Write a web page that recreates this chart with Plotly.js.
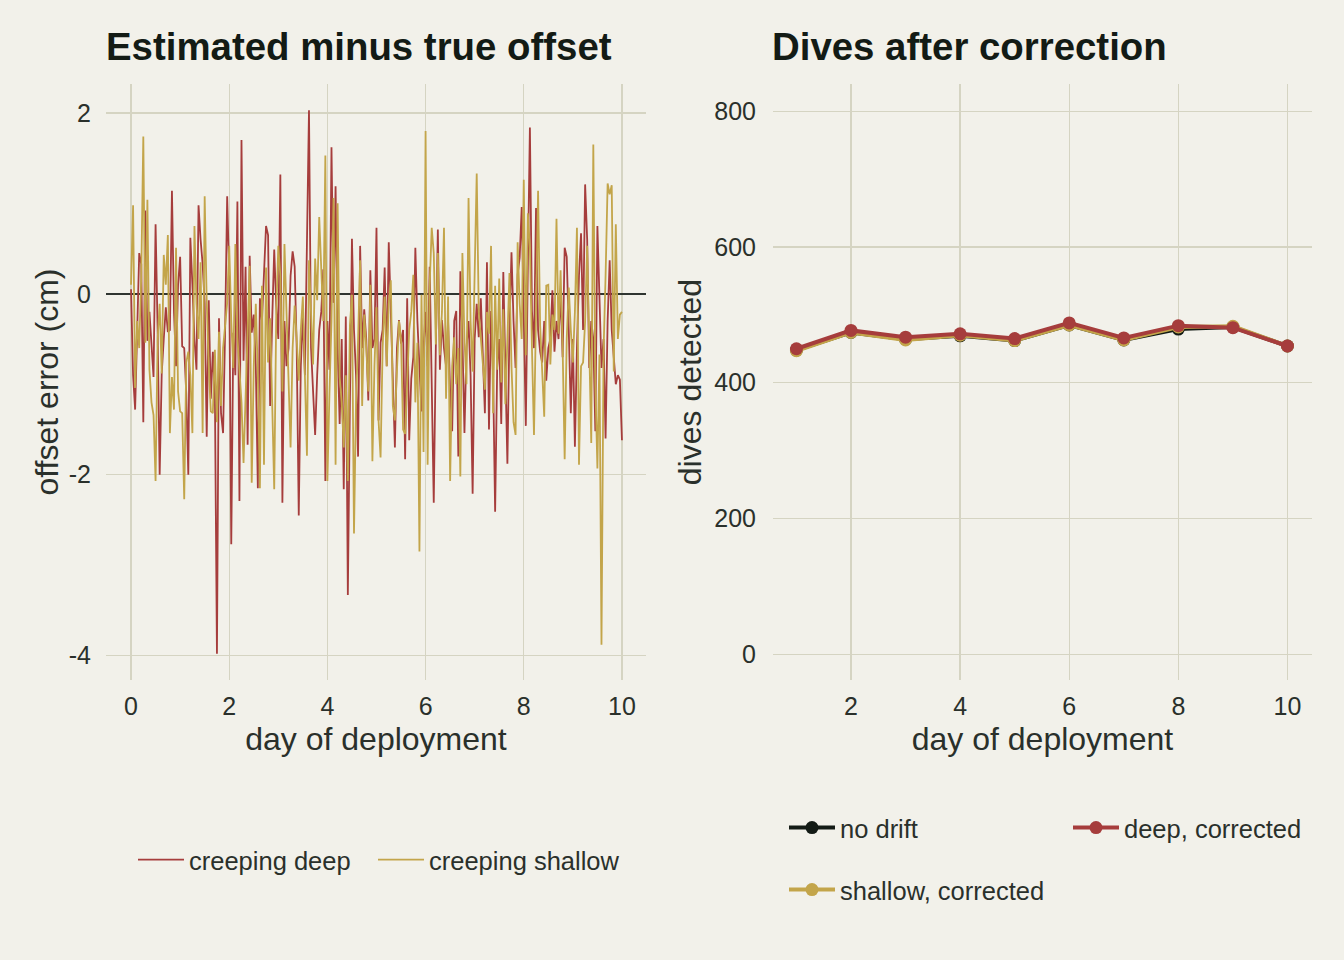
<!DOCTYPE html>
<html>
<head>
<meta charset="utf-8">
<script src="https://cdn.plot.ly/plotly-3.0.1.min.js"></script>
<style>
  html, body { margin: 0; padding: 0; background: #F2F1EA; overflow: hidden; }
  #chart { width: 1344px; height: 960px; }
</style>
</head>
<body>
<div id="chart"></div>
<script>
// ---- Left panel: estimated minus true offset (cm), hourly over 10 days ----
const creepingDeep = [
  0.05, -0.9, -1.28, -0.3, 0.45, 0.33, -1.42, 0.92, -0.52, -0.2,
  -0.6, -0.92, 0.77, -0.4, -2.0, -0.88, -0.5, -0.15, -0.42, -0.4,
  1.14, -0.2, -0.8, 0.1, 0.41, -0.58, -0.6, -1.1, -2.0, 0.62,
  0.1, -0.5, -0.84, 0.98, 0.6, 0.33, -0.1, -1.58, -0.07, -1.16,
  -0.64, -1.1, -3.98, -0.27, -1.32, -1.54, -0.4, 1.08, 0.2, -2.77,
  -0.43, -0.9, 1.02, -2.29, 1.7, -0.74, 0.3, -1.67, 0.42, -0.43,
  -0.23, -0.8, -2.15, -0.05, -0.3, 0.2, 0.75, 0.65, -1.24, -0.3,
  0.49, -0.13, -0.5, 1.32, -2.31, -0.3, -0.8, -0.6, 0.2, 0.47,
  0.3, -0.6, -2.45, -0.8, -0.23, -0.9, 0.4, 2.03, -0.6, -1.1,
  -1.56, -0.9, -0.4, -0.2, 0.27, -2.07, -0.3, -0.84, 1.62, -0.1,
  1.19, -0.6, -1.44, -0.5, -2.16, -0.25, -3.33, -1.2, 0.61, -0.4,
  -0.9, -1.8, 0.53, -0.6, -0.17, -0.5, -1.18, 0.26, -0.6, -0.5,
  0.73, -1.4, -0.54, -0.4, 0.29, -0.8, 0.57, -0.2, -0.9, -1.7,
  -0.6, -0.29, -0.55, -0.4, -1.83, -0.05, -1.62, -0.94, -0.7, 0.51,
  -0.3, -0.9, -1.3, -0.6, -0.2, -0.8, 0.3, -1.0, -2.31, -0.6,
  0.71, -0.84, -0.29, -0.6, -0.8, -0.3, -1.08, -1.52, -0.3, -0.19,
  -1.8, 0.25, -0.5, -1.54, -0.6, -0.3, -0.9, -2.21, -0.5, -0.11,
  -0.48, -0.05, -0.7, -1.32, 0.35, -1.5, -0.19, -0.9, -2.41, -0.82,
  -0.5, -1.44, 0.24, -0.7, -1.88, -0.4, 0.46, -0.3, -0.82, 0.21,
  0.4, 0.96, -0.2, -1.46, 0.3, 1.84, -0.19, -0.6, 0.95, -0.4,
  -0.64, -0.76, -0.3, -0.96, -0.6, -0.5, 0.04, -0.64, -0.3, -0.5,
  0.01, -0.7, 0.51, 0.41, -0.4, -1.32, -0.5, -1.69, -0.6, 0.2,
  0.67, -0.4, 1.21, 0.6, -0.82, -0.3, -0.5, -1.52, 0.75, -0.2,
  -0.82, -0.5, -1.6, -0.3, 0.37, -0.4, -0.74, -1.0, -0.9, -0.95,
  -1.62
];
const creepingShallow = [
  0.1, 0.98, -1.04, -0.3, -0.6, 0.2, 1.74, -0.54, 1.04, -0.84,
  -1.2, -1.34, -2.07, -0.5, -0.11, -0.88, 0.43, 0.1, 0.65, -1.54,
  -0.92, -1.28, 0.51, -1.08, -1.3, -1.32, -2.27, -0.76, -0.64, -0.9,
  -1.54, 0.75, -0.11, -0.5, 0.35, -1.54, 1.08, -0.09, -0.8, -1.3,
  -1.32, -0.62, -1.42, -0.42, -1.24, -0.6, -0.35, -0.1, 0.53, -0.3,
  -0.82, 0.55, -0.48, -0.8, -1.2, -1.87, -1.16, -0.4, 0.31, -2.09,
  -0.8, -0.11, -0.9, -2.15, 0.09, -1.89, 0.29, -0.76, -0.27, -1.2,
  -2.16, -0.21, 0.53, 0.2, -1.08, 0.55, -0.29, -0.9, -1.7, -0.6,
  -0.13, -0.5, -0.96, -0.4, -0.03, -0.9, -1.79, 0.37, -0.3, -0.78,
  0.39, -0.07, 0.85, 0.17, -0.3, 1.53, -2.07, -1.1, -0.3, 1.06,
  -1.89, 1.0, -0.92, -1.2, -1.7, -0.9, -2.07, -0.35, -0.01, -2.65,
  -1.2, -0.5, 0.37, -1.24, -0.23, -0.6, -1.08, 0.1, -1.85, -0.8,
  -0.15, -1.4, -1.81, -0.6, -0.03, -0.8, -0.11, 0.15, -1.24, -1.4,
  -0.8, -0.3, -0.5, -1.5, -1.55, -0.9, -0.4, -0.2, 0.21, -1.2,
  -0.54, -2.85, -0.01, -1.75, 1.8, -1.89, 0.1, 0.73, 0.45, -0.56,
  0.45, -0.68, -0.2, 0.73, -1.16, -0.03, -2.07, -0.8, -0.48, -1.0,
  -0.6, -2.02, 0.45, -0.5, -1.0, 1.06, -0.3, -0.86, 0.2, 1.33,
  -0.2, -0.48, -0.7, -1.06, -0.2, -0.44, 0.53, -1.32, 0.09, -0.84,
  0.17, -0.98, -0.17, -1.22, -0.5, 0.23, -0.8, -1.42, -1.56, 0.57,
  -0.11, -0.5, 1.26, -0.68, 0.89, 0.51, -0.6, -1.56, -0.2, 1.14,
  -0.35, -0.9, -1.36, 0.09, 0.1, -0.78, -0.23, -0.4, 0.83, -0.44,
  0.26, -0.6, -1.83, -0.5, 0.07, -0.4, -0.76, -0.2, 0.73, -1.89,
  -0.8, -0.76, -0.3, 0.53, -0.6, -1.65, 1.65, -1.0, -1.93, -0.67,
  -3.88, -0.64, 0.2, 1.22, 1.1, 1.2, -0.86, 0.77, -0.5, -0.23,
  -0.2
];
const hoursPerDay = 24;
const offsetDays = creepingDeep.map((_, i) => i / hoursPerDay);

// ---- Right panel: dives detected per day ----
const diveDays = [1, 2, 3, 4, 5, 6, 7, 8, 9, 10];
const divesNoDrift = [448, 474, 464, 469, 462, 485, 463, 479, 482, 454];
const divesShallowCorrected = [447, 474, 463, 470, 462, 485, 463, 482, 483, 454];
const divesDeepCorrected = [450, 477, 467, 472, 465, 488, 466, 484, 481, 454];

// ---- tick labels ----
const leftXTicks = [0, 2, 4, 6, 8, 10];
const leftXTickText = ['0', '2', '4', '6', '8', '10'];
const leftYTicks = [-4, -2, 0, 2];
const leftYTickText = ['-4', '-2', '0', '2'];
const rightXTicks = [2, 4, 6, 8, 10];
const rightXTickText = ['2', '4', '6', '8', '10'];
const rightYTicks = [0, 200, 400, 600, 800];
const rightYTickText = ['0', '200', '400', '600', '800'];

const RED = '#A63D3C';
const GOLD = '#C3A54A';
const INK = '#131B15';
const TEXT = '#2A302B';
const GRID = '#D5D4C2';
const BG = '#F2F1EA';
const FONT = 'Liberation Sans, Arial, Helvetica, sans-serif';

const traces = [
  { x: offsetDays, y: creepingDeep, type: 'scatter', mode: 'lines', name: 'creeping deep',
    line: { color: RED, width: 1.8 }, xaxis: 'x', yaxis: 'y', legend: 'legend' },
  { x: offsetDays, y: creepingShallow, type: 'scatter', mode: 'lines', name: 'creeping shallow',
    line: { color: GOLD, width: 1.8 }, xaxis: 'x', yaxis: 'y', legend: 'legend2' },
  { x: diveDays, y: divesNoDrift, type: 'scatter', mode: 'lines+markers', name: 'no drift',
    line: { color: INK, width: 4 }, marker: { color: INK, size: 13 },
    xaxis: 'x2', yaxis: 'y2', legend: 'legend3' },
  { x: diveDays, y: divesShallowCorrected, type: 'scatter', mode: 'lines+markers', name: 'shallow, corrected',
    line: { color: GOLD, width: 4 }, marker: { color: GOLD, size: 13 },
    xaxis: 'x2', yaxis: 'y2', legend: 'legend5' },
  { x: diveDays, y: divesDeepCorrected, type: 'scatter', mode: 'lines+markers', name: 'deep, corrected',
    line: { color: RED, width: 4 }, marker: { color: RED, size: 13 },
    xaxis: 'x2', yaxis: 'y2', legend: 'legend4' }
];

const axisCommon = {
  showgrid: true, gridcolor: GRID, gridwidth: 1.3,
  showline: false, ticks: '', zeroline: false, tickmode: 'array',
  tickfont: { family: FONT, size: 25, color: TEXT },
  automargin: false, fixedrange: true
};
const titleFont = { family: FONT, size: 32, color: TEXT };
const legendFont = { family: FONT, size: 25.5, color: TEXT };

function legendAt(px, py) {
  return {
    orientation: 'h', x: px / 1344, xanchor: 'left', y: 1 - py / 960, yanchor: 'middle',
    bgcolor: 'rgba(0,0,0,0)', font: legendFont, itemwidth: 46
  };
}

const layout = {
  width: 1344, height: 960,
  paper_bgcolor: BG, plot_bgcolor: BG,
  margin: { l: 0, r: 0, t: 0, b: 0, autoexpand: false },
  font: { family: FONT, color: TEXT },
  xaxis: Object.assign({}, axisCommon, {
    domain: [106 / 1344, 646 / 1344], anchor: 'y',
    range: [-0.51, 10.49], tickvals: leftXTicks, ticktext: leftXTickText,
    ticklabelstandoff: 9,
    title: { text: 'day of deployment', font: titleFont, standoff: 8 }
  }),
  yaxis: Object.assign({}, axisCommon, {
    domain: [1 - 680 / 960, 1 - 84 / 960], anchor: 'x',
    range: [-4.27, 2.32], tickvals: leftYTicks, ticktext: leftYTickText,
    ticklabelstandoff: 14,
    zeroline: true, zerolinecolor: '#2F3530', zerolinewidth: 1.6,
    title: { text: 'offset error (cm)', font: titleFont, standoff: 0 }
  }),
  xaxis2: Object.assign({}, axisCommon, {
    domain: [773 / 1344, 1312 / 1344], anchor: 'y2',
    range: [0.57, 10.45], tickvals: rightXTicks, ticktext: rightXTickText,
    ticklabelstandoff: 9,
    title: { text: 'day of deployment', font: titleFont, standoff: 8 }
  }),
  yaxis2: Object.assign({}, axisCommon, {
    domain: [1 - 680 / 960, 1 - 84 / 960], anchor: 'x2',
    range: [-38, 840], tickvals: rightYTicks, ticktext: rightYTickText,
    ticklabelstandoff: 16,
    title: { text: 'dives detected', font: titleFont, standoff: 3 }
  }),
  legend: legendAt(133, 860),
  legend2: legendAt(373, 860),
  legend3: legendAt(784, 828),
  legend4: legendAt(1068, 828),
  legend5: legendAt(784, 890),
  annotations: [
    { text: '<b>Estimated minus true offset</b>', xref: 'paper', yref: 'paper',
      x: 104 / 1344, xanchor: 'left', y: 1 - 47 / 960, yanchor: 'middle', showarrow: false,
      font: { family: FONT, size: 38.4, color: INK } },
    { text: '<b>Dives after correction</b>', xref: 'paper', yref: 'paper',
      x: 770 / 1344, xanchor: 'left', y: 1 - 47 / 960, yanchor: 'middle', showarrow: false,
      font: { family: FONT, size: 38.4, color: INK } }
  ],
  showlegend: true
};

Plotly.newPlot('chart', traces, layout, { staticPlot: true, displayModeBar: false });
</script>
</body>
</html>
